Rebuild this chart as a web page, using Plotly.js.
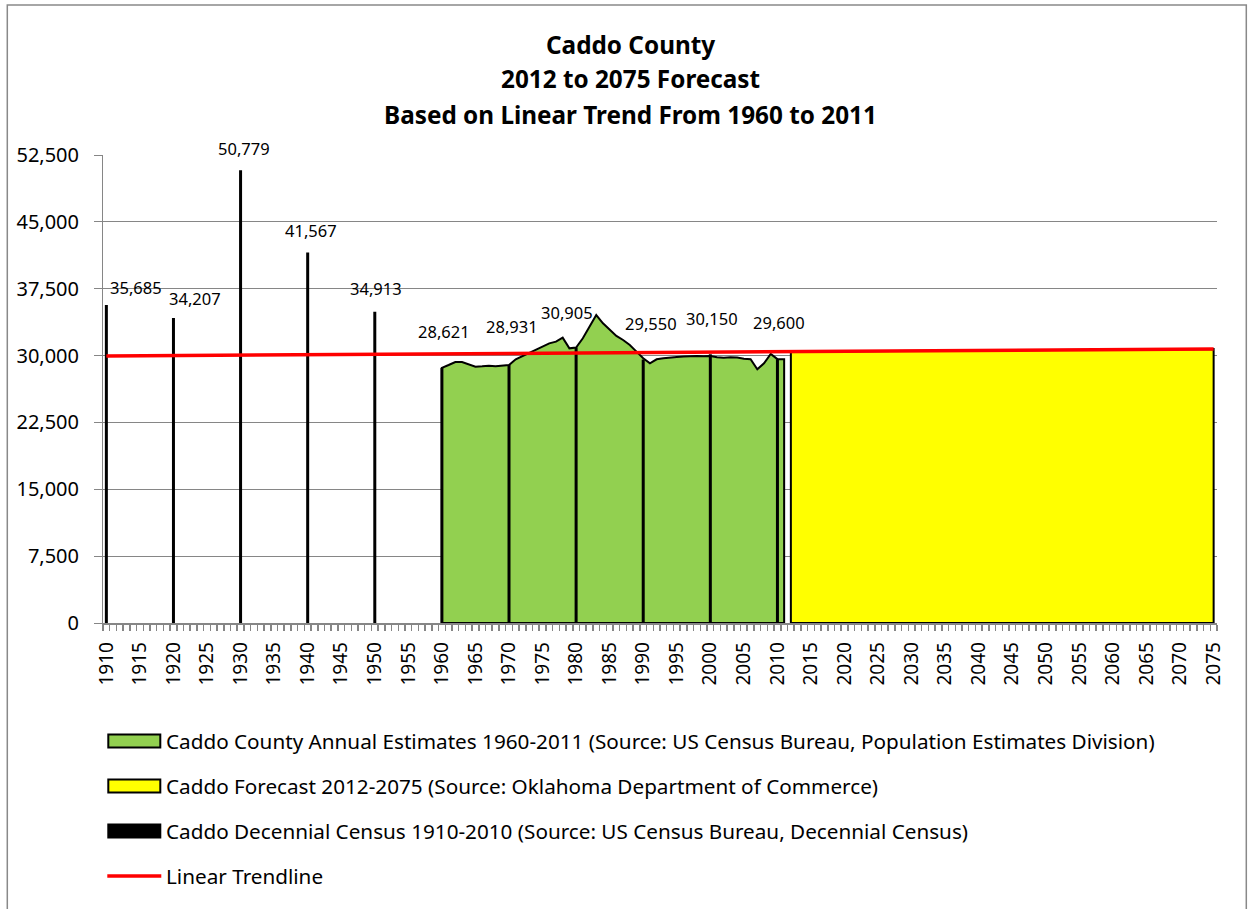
<!DOCTYPE html>
<html>
<head>
<meta charset="utf-8">
<script src="https://cdn.plot.ly/plotly-3.0.1.min.js"></script>
<style>html,body{margin:0;padding:0;background:#fff;}#chart{width:1250px;height:909px;}</style>
</head>
<body>
<div id="chart"></div>
<script>
// ---- DATA ----
const titleLines = ["Caddo County", "2012 to 2075 Forecast", "Based on Linear Trend From 1960 to 2011"];

const censusYears  = [1910, 1920, 1930, 1940, 1950, 1960, 1970, 1980, 1990, 2000, 2010];
const censusValues = [35685, 34207, 50779, 41567, 34913, 28621, 28931, 30905, 29550, 30150, 29600];

const estimateYears = [1960,1961,1962,1963,1964,1965,1966,1967,1968,1969,
                       1970,1971,1972,1973,1974,1975,1976,1977,1978,1979,
                       1980,1981,1982,1983,1984,1985,1986,1987,1988,1989,
                       1990,1991,1992,1993,1994,1995,1996,1997,1998,1999,
                       2000,2001,2002,2003,2004,2005,2006,2007,2008,2009,
                       2010,2011];
const estimateValues = [28621,28940,29280,29280,29050,28750,28800,28870,28800,28870,
                        28931,29580,29950,30250,30620,31000,31370,31560,32010,30810,
                        30905,31940,33240,34550,33620,32870,32200,31750,31190,30440,
                        29700,29130,29580,29700,29800,29850,29900,29950,29950,29920,
                        29950,29800,29750,29800,29780,29650,29600,28460,29130,30180,
                        29600,29580];

const forecastYears  = [2012, 2015, 2020, 2025, 2030, 2035, 2040, 2045, 2050, 2055, 2060, 2065, 2070, 2075];
const forecastValues = [30440, 30455, 30480, 30500, 30525, 30550, 30575, 30600, 30620, 30645, 30670, 30695, 30715, 30740];

const trendYears  = [1910, 2075];
const trendValues = [29950, 30740];

const xTickYears = [1910,1915,1920,1925,1930,1935,1940,1945,1950,1955,1960,1965,1970,1975,1980,1985,1990,1995,2000,2005,2010,2015,2020,2025,2030,2035,2040,2045,2050,2055,2060,2065,2070,2075];

const legendNames = [
  "Caddo County Annual Estimates 1960-2011 (Source: US Census Bureau, Population Estimates Division)",
  "Caddo Forecast 2012-2075 (Source: Oklahoma Department of Commerce)",
  "Caddo Decennial Census 1910-2010 (Source: US Census Bureau, Decennial Census)",
  "Linear Trendline"
];

// ---- STYLE / LAYOUT ----
const FONT = "Noto Sans, Open Sans, Liberation Sans, sans-serif";
const GREEN = "#92d050", YELLOW = "#ffff00", RED = "#ff0000", GRID = "#868686";
const W = 1250, H = 909;
const L = 102.7, R = 1216.7, T = 155, B = 623;
const pw = R - L, ph = B - T;
const px = v => (v - L) / pw;
const py = v => (B - v) / ph;

// label offsets (pixels) for census labels
const labelDX = [30, 22, 3, 3, 1, 2, 3, -9, 8, 2, 2];
const labelDY = [17, 20, 22, 22, 23, 36, 39, 35, 36, 36, 37];

// closed polygon helpers built from the data arrays
function closedX(xs) { return [xs[0]].concat(xs, [xs[xs.length - 1], xs[0]]); }
function closedY(ys) { return [0].concat(ys, [0, 0]); }

const censusX = [], censusY = [];
censusYears.forEach((yr, i) => { censusX.push(yr, yr, null); censusY.push(0, censusValues[i], null); });

const traces = [
  { type: "scatter", mode: "lines", x: closedX(estimateYears), y: closedY(estimateValues),
    fill: "toself", fillcolor: GREEN, line: { color: "#000", width: 2 }, name: legendNames[0],
    hoverinfo: "skip", showlegend: false },
  { type: "scatter", mode: "lines", x: closedX(forecastYears), y: closedY(forecastValues),
    fill: "toself", fillcolor: YELLOW, line: { color: "#000", width: 2 }, name: legendNames[1],
    hoverinfo: "skip", showlegend: false },
  { type: "scatter", mode: "lines", x: censusX, y: censusY,
    line: { color: "#000", width: 3 }, name: legendNames[2], connectgaps: false, showlegend: false },
  { type: "scatter", mode: "lines", x: trendYears, y: trendValues,
    line: { color: RED, width: 3.5 }, name: legendNames[3], showlegend: false }
];

const annotations = [];
// Title lines
const titleY = [45, 79, 114];
titleLines.forEach((t, i) => {
  annotations.push({ xref: "paper", yref: "paper", x: px(630), y: py(titleY[i]), xanchor: "center", yanchor: "middle",
    text: "<b>" + t + "</b>", showarrow: false, font: { family: FONT, size: 24.3, color: "#000" } });
});
// Data labels
censusYears.forEach((yr, i) => {
  annotations.push({ x: yr, y: censusValues[i], xref: "x", yref: "y", text: censusValues[i].toLocaleString("en-US"),
    showarrow: false, xanchor: "center", yanchor: "middle", xshift: labelDX[i], yshift: labelDY[i],
    font: { family: FONT, size: 16.5, color: "#000" } });
});

const shapes = [
  // outer chart border
  { type: "rect", xref: "paper", yref: "paper", x0: px(7), x1: px(1246), y0: py(915), y1: py(5),
    line: { color: "#898989", width: 1.5 }, fillcolor: "rgba(0,0,0,0)", layer: "below" }
];

// Legend (manual)
const legendRowY = [741, 786, 831, 876];
const legendFill = [GREEN, YELLOW, "#000", null];
legendNames.forEach((nm, i) => {
  const yc = legendRowY[i];
  if (legendFill[i]) {
    shapes.push({ type: "rect", xref: "paper", yref: "paper", x0: px(108), x1: px(160), y0: py(yc + 6.5), y1: py(yc - 6.5),
      fillcolor: legendFill[i], line: { color: "#000", width: 2 } });
  } else {
    shapes.push({ type: "line", xref: "paper", yref: "paper", x0: px(107), x1: px(161), y0: py(yc), y1: py(yc),
      line: { color: RED, width: 3.5 } });
  }
  annotations.push({ xref: "paper", yref: "paper", x: px(164), y: py(yc), xanchor: "left", yanchor: "middle",
    text: nm, showarrow: false, font: { family: FONT, size: 20.7, color: "#000" } });
});

const layout = {
  width: W, height: H,
  margin: { l: L, r: W - R, t: T, b: H - B, pad: 0 },
  paper_bgcolor: "#fff", plot_bgcolor: "#fff",
  showlegend: false,
  xaxis: {
    range: [1909.5, 2075.5], tickmode: "array", tickvals: xTickYears, ticktext: xTickYears.map(String),
    tickangle: -90, ticks: "", showgrid: false, zeroline: false,
    showline: true, linecolor: GRID, linewidth: 1.5, ticklabelstandoff: 10,
    tickfont: { family: FONT, size: 19, color: "#000" },
    minor: { tick0: 1909.5, dtick: 1, ticks: "outside", ticklen: 6, tickcolor: GRID, tickwidth: 1.5, showgrid: false }
  },
  yaxis: {
    range: [0, 52500], tick0: 0, dtick: 7500, tickformat: ",d",
    ticks: "outside", ticklen: 8, tickcolor: GRID, tickwidth: 1, ticklabelstandoff: 11,
    showgrid: true, gridcolor: GRID, gridwidth: 1, zeroline: false,
    showline: true, linecolor: GRID, linewidth: 1,
    tickfont: { family: FONT, size: 20, color: "#000" }
  },
  annotations: annotations,
  shapes: shapes
};

Plotly.newPlot("chart", traces, layout, { staticPlot: true, displayModeBar: false });
</script>
</body>
</html>
